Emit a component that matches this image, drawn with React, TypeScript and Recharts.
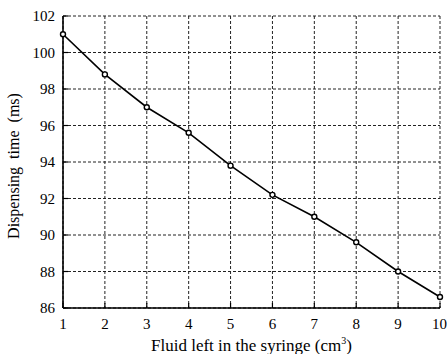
import React from "react";
import {
  LineChart,
  Line,
  XAxis,
  YAxis,
  CartesianGrid,
} from "recharts";

const volumes = [1, 2, 3, 4, 5, 6, 7, 8, 9, 10];
const dispensingMs = [101, 98.8, 97, 95.6, 93.8, 92.2, 91, 89.6, 88, 86.6];
const xTicks = [1, 2, 3, 4, 5, 6, 7, 8, 9, 10];
const yTicks = [86, 88, 90, 92, 94, 96, 98, 100, 102];

const data = volumes.map((v, i) => ({ v, ms: dispensingMs[i] }));

const FONT = "'Liberation Serif', 'Times New Roman', serif";
const INK = "#000";
const tickStyle = { fontSize: 15, fontFamily: FONT, fill: INK };

const XTitle = ({ viewBox }: any) => {
  const cx = viewBox.x + viewBox.width / 2;
  return (
    <text x={cx} y={351} textAnchor="middle" fontFamily={FONT} fontSize={17} fill={INK}>
      Fluid left in the syringe (cm
      <tspan dy={-7} fontSize={10}>3</tspan>
      <tspan dy={7}>)</tspan>
    </text>
  );
};

const YTitle = ({ viewBox }: any) => {
  const cy = viewBox.y + viewBox.height / 2 + 4;
  const x = 19;
  return (
    <text
      x={x}
      y={cy}
      textAnchor="middle"
      transform={`rotate(-90, ${x}, ${cy})`}
      fontFamily={FONT}
      fontSize={16}
      fill={INK}
    >
      {"Dispensing\u00a0 time\u00a0 (ms)"}
    </text>
  );
};

export default function App() {
  return (
    <div style={{ position: "absolute", left: 0, top: 0, background: "#fff" }}>
      <LineChart
        width={447}
        height={354}
        data={data}
        margin={{ top: 16, right: 7, bottom: 0, left: 0 }}
      >
        <CartesianGrid
          stroke="#222"
          strokeWidth={1}
          strokeDasharray="3 2"
        />
        <XAxis
          dataKey="v"
          type="number"
          domain={[1, 10]}
          ticks={xTicks}
          height={46}
          tickSize={-5}
          tickMargin={15}
          tick={tickStyle}
          axisLine={{ stroke: INK, strokeWidth: 1.6 }}
          tickLine={{ stroke: INK, strokeWidth: 1.2 }}
          label={<XTitle />}
        />
        <XAxis
          xAxisId="top"
          orientation="top"
          dataKey="v"
          type="number"
          domain={[1, 10]}
          ticks={xTicks}
          height={0}
          tickSize={-5}
          tick={false}
          axisLine={{ stroke: INK, strokeWidth: 1.6 }}
          tickLine={{ stroke: INK, strokeWidth: 1.2 }}
        />
        <YAxis
          type="number"
          domain={[86, 102]}
          ticks={yTicks}
          width={63}
          tickSize={-5}
          tickMargin={13}
          tick={tickStyle}
          axisLine={{ stroke: INK, strokeWidth: 1.6 }}
          tickLine={{ stroke: INK, strokeWidth: 1.2 }}
          label={<YTitle />}
        />
        <YAxis
          yAxisId="right"
          orientation="right"
          type="number"
          domain={[86, 102]}
          ticks={yTicks}
          width={0}
          tickSize={-5}
          tick={false}
          axisLine={{ stroke: INK, strokeWidth: 1.6 }}
          tickLine={{ stroke: INK, strokeWidth: 1.2 }}
        />
        <Line
          type="linear"
          dataKey="ms"
          stroke={INK}
          strokeWidth={1.6}
          dot={{ r: 2.5, stroke: INK, strokeWidth: 1.4, fill: "#fff" }}
          isAnimationActive={false}
        />
      </LineChart>
    </div>
  );
}
